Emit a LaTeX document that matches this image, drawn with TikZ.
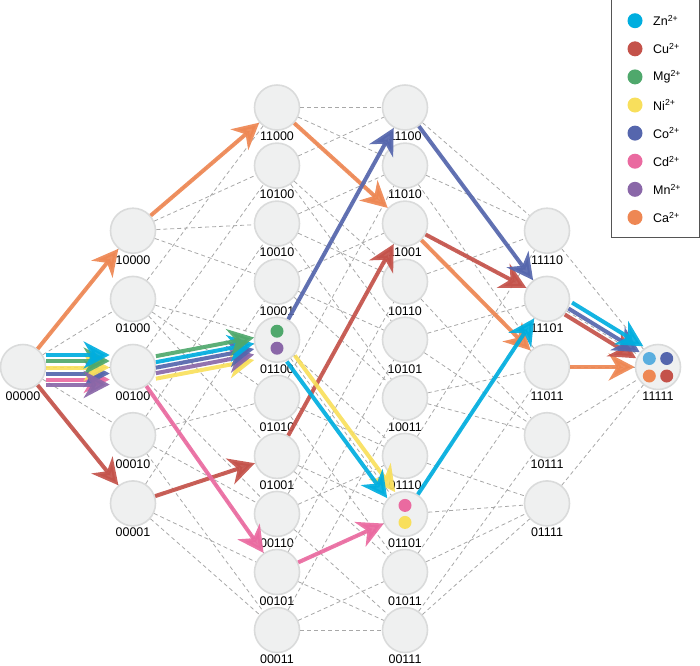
\documentclass[tikz,border=0pt]{standalone}
\usepackage{fontspec}
\setmainfont{Liberation Sans}
\usetikzlibrary{arrows.meta,calc}
\definecolor{zn}{HTML}{00AEDF}
\definecolor{zn2}{HTML}{5AAEDF}
\definecolor{cu}{HTML}{C4524A}
\definecolor{mg}{HTML}{4FA86C}
\definecolor{ni}{HTML}{F8DF5C}
\definecolor{co}{HTML}{5566AD}
\definecolor{cd}{HTML}{EA6AA0}
\definecolor{mn}{HTML}{8A67A8}
\definecolor{ca}{HTML}{EE8753}
\definecolor{nodefill}{HTML}{EFF0F0}
\definecolor{nodeedge}{HTML}{DADBDB}
\definecolor{dashgray}{HTML}{A8A8A8}
\definecolor{legedge}{HTML}{555555}
\begin{document}
\begin{tikzpicture}[x=1pt,y=-1pt,
  nd/.style={circle, minimum size=45pt, inner sep=0pt, fill=nodefill, draw=nodeedge, line width=1.6pt},
  lab/.style={font=\fontsize{12.5}{14}\selectfont, inner sep=0pt, text=black},
  hedge/.style={draw=dashgray, line width=0.8pt, dash pattern=on 4pt off 3pt},
  arr/.style={line width=4pt, -{Stealth[length=26pt,width=27pt,inset=8pt]}, opacity=0.92},
  dot/.style={circle, inner sep=0pt, minimum size=13pt},
  legdot/.style={circle, inner sep=0pt, minimum size=15pt},
  legtext/.style={font=\fontsize{12.5}{14}\selectfont, inner sep=0pt, anchor=west},
  legbox/.style={draw=legedge, line width=1pt}
]
\useasboundingbox (0,0) rectangle (700,665);

% nodes
\node[nd] (n00000) at (23,367) {};
\foreach \n/\y in {10000/230.7,01000/298.9,00100/367,00010/435.2,00001/503.4}
  \node[nd] (n\n) at (133,\y) {};
\foreach \n/\y in {11000/107.5,10100/165.6,10010/223.6,10001/281.7,01100/339.7,01010/397.8,01001/455.9,00110/513.9,00101/572,00011/630}
  \node[nd] (n\n) at (277,\y) {};
\foreach \n/\y in {11100/107.5,11010/165.6,11001/223.6,10110/281.7,10101/339.7,10011/397.8,01110/455.9,01101/513.9,01011/572,00111/630}
  \node[nd] (n\n) at (405,\y) {};
\foreach \n/\y in {11110/230.7,11101/298.9,11011/367,10111/435.2,01111/503.4}
  \node[nd] (n\n) at (547,\y) {};
\node[nd] (n11111) at (658,367) {};

% labels
\foreach \n in {00000,10000,01000,00100,00010,00001,11000,10100,10010,10001,01100,01010,01001,00110,00101,00011,11100,11010,11001,10110,10101,10011,01110,01101,01011,00111,11110,11101,11011,10111,01111,11111}
  \node[lab] (t\n) at ($(n\n)+(0,29)$) {\n};

% hypercube edges
\foreach \a/\b in {00000/10000,00000/01000,00000/00100,00000/00010,00000/00001,
  10000/11000,10000/10100,10000/10010,10000/10001,
  01000/11000,01000/01100,01000/01010,01000/01001,
  00100/10100,00100/01100,00100/00110,00100/00101,
  00010/10010,00010/01010,00010/00110,00010/00011,
  00001/10001,00001/01001,00001/00101,00001/00011,
  11000/11100,11000/11010,11000/11001,
  10100/11100,10100/10110,10100/10101,
  10010/11010,10010/10110,10010/10011,
  10001/11001,10001/10101,10001/10011,
  01100/11100,01100/01110,01100/01101,
  01010/11010,01010/01110,01010/01011,
  01001/11001,01001/01101,01001/01011,
  00110/10110,00110/01110,00110/00111,
  00101/10101,00101/01101,00101/00111,
  00011/10011,00011/01011,00011/00111,
  11100/11110,11100/11101,
  11010/11110,11010/11011,
  11001/11101,11001/11011,
  10110/11110,10110/10111,
  10101/11101,10101/10111,
  10011/11011,10011/10111,
  01110/11110,01110/01111,
  01101/11101,01101/01111,
  01011/11011,01011/01111,
  00111/10111,00111/01111,
  11110/11111,11101/11111,11011/11111,10111/11111,01111/11111}
  \draw[hedge] (n\a) -- (n\b);

% dots inside nodes
\node[dot, fill=mg] (d1) at ($(n01100)+(0,-8.5)$) {};
\node[dot, fill=mn] (d2) at ($(n01100)+(0,8.5)$) {};
\node[dot, fill=cd] (d3) at ($(n01101)+(0,-8.5)$) {};
\node[dot, fill=ni] (d4) at ($(n01101)+(0,8.5)$) {};
\node[dot, fill=zn2] (d5) at ($(n11111)+(-8.7,-8.5)$) {};
\node[dot, fill=co] (d6) at ($(n11111)+(8.7,-8.5)$) {};
\node[dot, fill=ca] (d7) at ($(n11111)+(-8.7,9)$) {};
\node[dot, fill=cu] (d8) at ($(n11111)+(8.7,9)$) {};

% Ca path
\draw[arr, ca] (n00000) -- (n10000);
\draw[arr, ca] (n10000) -- (n11000);
\draw[arr, ca] (n11000) -- (n11001);
\draw[arr, ca] (n11001) -- (n11011);
\draw[arr, ca] (n11011) -- (n11111);
% Cu path
\draw[arr, cu] (n00000) -- (n00001);
\draw[arr, cu] (n00001) -- (n01001);
\draw[arr, cu] (n01001) -- (n11001);
\draw[arr, cu] (n11001) -- (n11101);
% Co path
\draw[arr, co] (n01100) -- (n11100);
\draw[arr, co] (n11100) -- (n11101);
% Zn path
\draw[arr, zn] (n01101) -- (n11101);
% Cd path
\draw[arr, cd] (n00100) -- (n00101);
\draw[arr, cd] (n00101) -- (n01101);
% Ni + Zn 01100 -> 01101
\draw[arr, ni, transform canvas={xshift=4pt, yshift=3pt}] (n01100) -- (n01101);
\draw[arr, zn, transform canvas={xshift=-4pt, yshift=-3pt}] (n01100) -- (n01101);

% bundle 00000 -> 00100
\draw[arr, cd, transform canvas={yshift=-12.5pt}] (n00000) -- (n00100);
\draw[arr, co, transform canvas={yshift=-6.5pt}] (n00000) -- (n00100);
\draw[arr, ni, transform canvas={yshift=-0.5pt}] (n00000) -- (n00100);
\draw[arr, mg, transform canvas={yshift=6pt}] (n00000) -- (n00100);
\draw[arr, zn, transform canvas={yshift=12pt}] (n00000) -- (n00100);
\draw[arr, mn, transform canvas={yshift=-17.5pt}] (n00000) -- (n00100);

% bundle 00100 -> 01100
\draw[arr, ni, transform canvas={yshift=-16pt}] (n00100) -- (n01100);
\draw[arr, mn, transform canvas={yshift=-10.5pt}] (n00100) -- (n01100);
\draw[arr, co, transform canvas={yshift=-5pt}] (n00100) -- (n01100);
\draw[arr, zn, transform canvas={yshift=0.5pt}] (n00100) -- (n01100);
\draw[arr, mg, transform canvas={yshift=6.5pt}] (n00100) -- (n01100);

% bundle 11101 -> 11111
\draw[arr, cu, transform canvas={xshift=-2.1pt, yshift=-3.4pt}] (n11101) -- (n11111);
\draw[arr, co, transform canvas={xshift=1.6pt, yshift=2.6pt}] (n11101) -- (n11111);
\draw[arr, zn, transform canvas={xshift=5.2pt, yshift=8.5pt}] (n11101) -- (n11111);

% legend
\draw[legbox] (611,-2) rectangle (699,237);
\foreach \c/\t [count=\i from 0] in {zn/Zn,cu/Cu,mg/Mg,ni/Ni,co/Co,cd/Cd,mn/Mn,ca/Ca}{
  \node[legdot, fill=\c] (ld\i) at (635,20.7+28.1*\i) {};
  \node[legtext] (lt\i) at (653,20.7+28.1*\i) {\t\textsuperscript{2+}};
}
\end{tikzpicture}
\end{document}
